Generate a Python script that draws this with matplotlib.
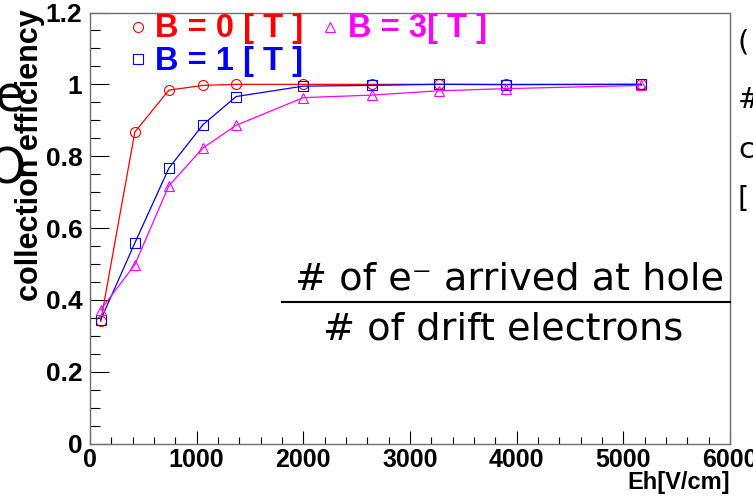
import matplotlib
matplotlib.use("Agg")
import matplotlib.pyplot as plt
from matplotlib.lines import Line2D
from matplotlib.ticker import MultipleLocator

# hole field scan, collection efficiency for three magnetic fields
eh = [100, 420, 740, 1060, 1370, 2000, 2640, 3270, 3900, 5170]
eff_b0 = [0.340, 0.867, 0.984, 0.997, 1.000, 1.000, 1.000, 1.000, 1.000, 1.000]
eff_b1 = [0.344, 0.558, 0.767, 0.888, 0.966, 0.995, 0.997, 1.000, 0.999, 1.000]
eff_b3 = [0.372, 0.498, 0.718, 0.823, 0.886, 0.963, 0.970, 0.982, 0.988, 0.997]

series = [
    ("B = 0 [ T ]", eff_b0, "#ff0000", "o"),
    ("B = 1 [ T ]", eff_b1, "#0000ff", "s"),
    ("B = 3[ T ]", eff_b3, "#ff00ff", "^"),
]

W, H = 753, 497


def fx(px):
    return px / W


def fy(py):
    return 1 - py / H


fig = plt.figure(figsize=(W / 100, H / 100), dpi=100)
ax = fig.add_axes([fx(90), fy(443.5), fx(730) - fx(90), fy(12.5) - fy(443.5)])

for label, vals, col, mk in series:
    ax.plot(eh, vals, color=col, lw=0.9, marker=mk, ms=7.2,
            mfc="none", mec=col, mew=0.8)

ax.set_xlim(0, 6000)
ax.set_ylim(0, 1.2)
ax.xaxis.set_major_locator(MultipleLocator(1000))
ax.xaxis.set_minor_locator(MultipleLocator(200))
ax.yaxis.set_major_locator(MultipleLocator(0.2))
ax.yaxis.set_minor_locator(MultipleLocator(0.05))
ax.yaxis.set_ticks([0, 0.2, 0.4, 0.6, 0.8, 1.0, 1.2])
ax.set_yticklabels(["0", "0.2", "0.4", "0.6", "0.8", "1", "1.2"])

for s in ax.spines.values():
    s.set_color("#707070")
    s.set_linewidth(1.0)

ax.tick_params(axis="x", which="major", direction="in", length=9.4, width=0.8,
               pad=3, labelsize=18)
ax.tick_params(axis="x", which="minor", direction="in", length=4.7, width=0.8)
ax.tick_params(axis="y", which="major", direction="in", length=13.7, width=0.8,
               pad=5.5, labelsize=19)
ax.tick_params(axis="y", which="minor", direction="in", length=7.2, width=0.8)
for t in ax.get_xticklabels() + ax.get_yticklabels():
    t.set_fontfamily("Liberation Sans")
    t.set_fontweight("bold")

# x axis title, right aligned at the frame edge
fig.text(fx(730), fy(489), "Eh[V/cm]", ha="right", va="baseline",
         fontsize=17, fontweight="bold", family="Liberation Sans")

# y axis title with the oversized upright glyphs over it
fig.text(fx(38), fy(155.5), "collection efficiency", rotation=90,
         rotation_mode="anchor", ha="center", va="baseline",
         fontsize=22, fontweight="bold", family="Liberation Sans")
fig.text(fx(24), fy(92), "e", ha="right", va="center_baseline",
         fontsize=35, family="DejaVu Sans")
fig.text(fx(25), fy(184), "O", ha="right", va="baseline",
         fontsize=35, family="DejaVu Sans")

# legend entries written as coloured text with a marker in front
legend_pos = [(137.7, 26.7, 155, 36.7), (137.7, 59.3, 155, 70), (330, 27, 347.7, 36.7)]
for (label, vals, col, mk), (mx, my, tx, ty) in zip(series, legend_pos):
    fig.add_artist(Line2D([fx(mx)], [fy(my)], transform=fig.transFigure,
                          marker=mk, ms=7.2, mfc="none", mec=col, mew=0.8,
                          ls="none"))
    fig.text(fx(tx), fy(ty), label, color=col, ha="left", va="baseline",
             fontsize=23.5, fontweight="bold", family="Liberation Sans")

# definition of the efficiency as a fraction
fig.text(fx(510), fy(290), "# of e\u207b arrived at hole", ha="center",
         va="baseline", fontsize=27.5, family="DejaVu Sans")
fig.add_artist(Line2D([fx(281.7), fx(730)], [fy(301.7), fy(301.7)],
                      transform=fig.transFigure, color="black", lw=1.5))
fig.text(fx(503), fy(340), "# of drift electrons", ha="center",
         va="baseline", fontsize=27.5, family="DejaVu Sans")

# edge of the neighbouring text block
for ch, py in [("(", 50), ("#", 108), ("c", 158), ("[", 207)]:
    fig.text(fx(738), fy(py), ch, ha="left", va="baseline", fontsize=21,
             family="DejaVu Sans")

fig.savefig("out.png", dpi=100)
